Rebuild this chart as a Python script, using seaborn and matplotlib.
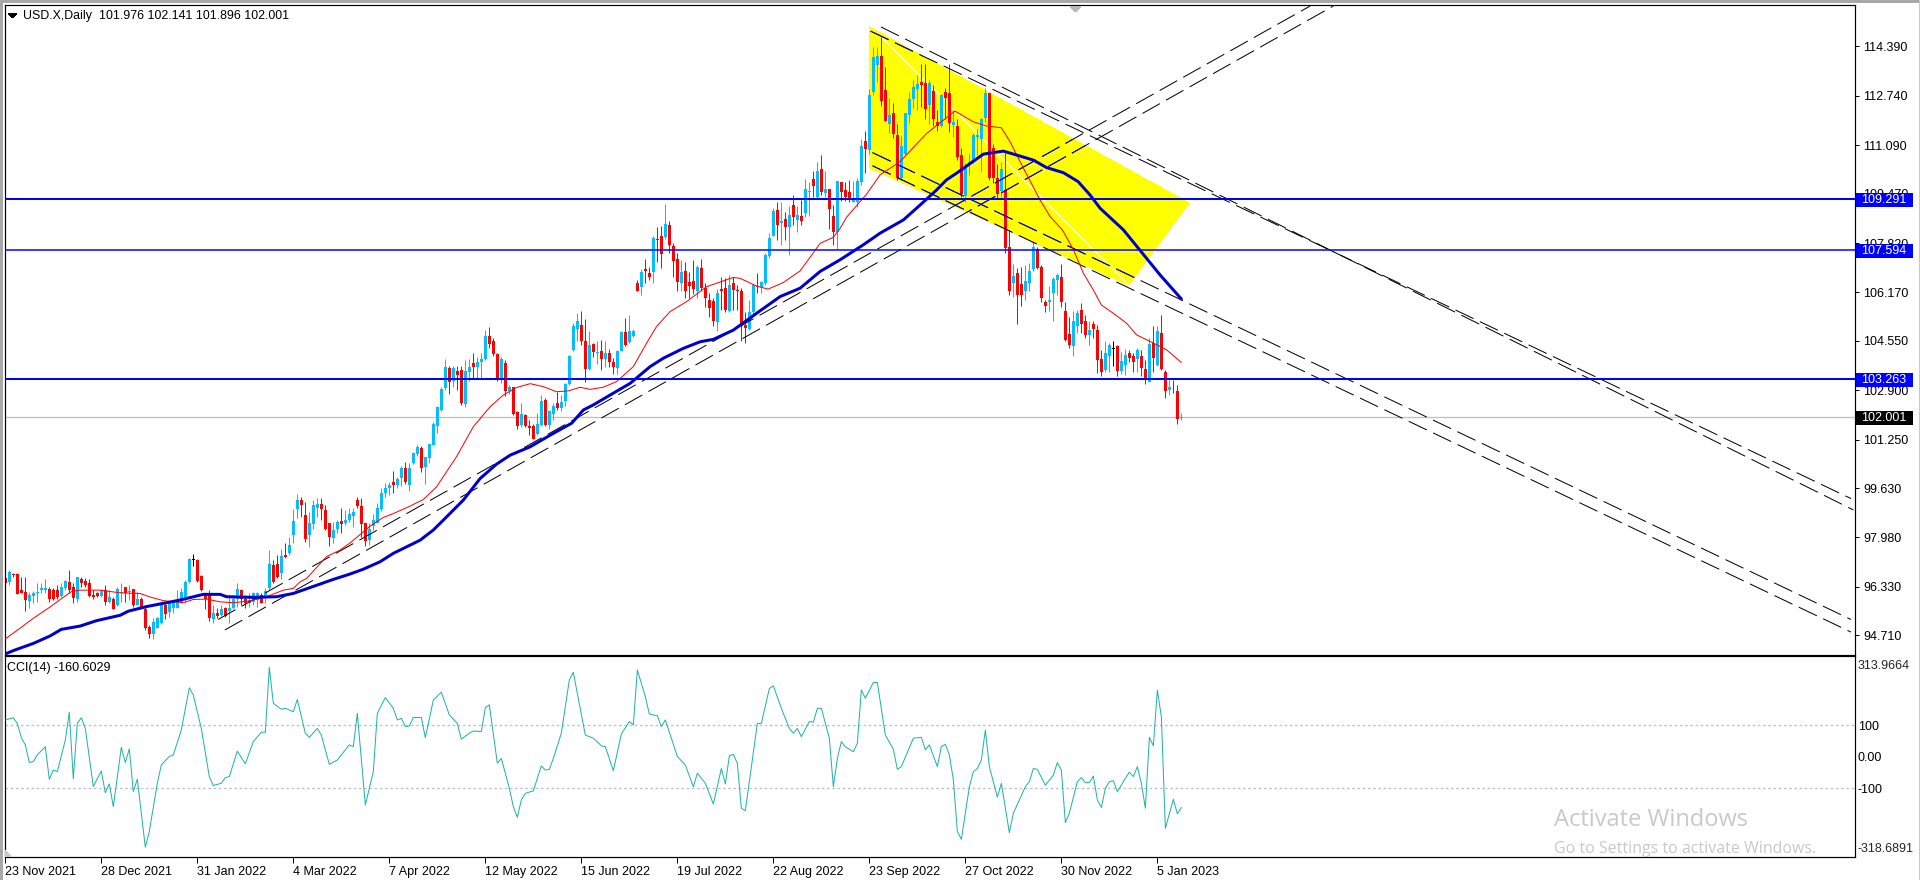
import matplotlib
matplotlib.use('Agg')
import matplotlib.pyplot as plt
from matplotlib.patches import Polygon, Rectangle
from matplotlib.transforms import blended_transform_factory
import numpy as np
import pandas as pd
import seaborn as sns

opens = [96.61,96.48,96.76,96.76,96.22,96.16,95.87,96.03,96.12,96.22,
 96.22,96.25,96.22,96.22,96.03,96.28,96.48,96.31,95.91,96.59,
 96.52,96.45,96.06,96.11,96.02,96.22,95.83,95.94,95.72,96.14,
 96.31,96.16,96.25,95.72,95.92,95.59,95.00,94.77,94.97,95.11,
 95.72,95.48,95.61,95.64,95.83,95.89,96.48,97.22,97.23,96.69,
 96.05,96.05,95.25,95.44,95.39,95.61,95.52,95.61,95.94,96.22,
 95.94,95.80,95.83,95.89,96.06,96.02,96.28,97.06,97.11,96.78,
 97.39,97.45,98.05,98.92,99.23,98.73,98.06,98.43,98.95,99.10,
 98.90,98.45,97.97,98.26,98.53,98.48,98.58,98.71,99.23,99.03,
 98.45,97.89,98.37,98.48,98.93,99.45,99.64,99.82,99.73,99.98,
 100.29,99.73,100.46,100.77,100.98,100.34,100.64,101.07,101.71,102.24,
 102.98,103.64,103.20,103.55,103.58,102.44,103.50,103.80,103.68,103.85,
 103.95,104.70,104.55,104.10,103.24,103.80,102.89,103.00,102.16,101.74,
 102.07,101.71,101.71,101.43,101.74,102.58,101.74,102.11,102.46,102.31,
 102.55,103.11,104.25,104.94,105.08,104.55,103.61,104.45,104.15,104.21,
 103.93,104.13,103.83,103.63,104.21,104.84,104.52,104.72,106.47,106.36,
 106.95,106.81,106.86,107.95,108.07,108.03,108.42,107.72,107.28,106.50,
 106.89,106.52,106.55,106.20,106.98,106.31,105.90,105.88,105.19,106.29,
 106.33,105.56,106.50,106.25,106.22,105.08,104.95,105.53,106.39,106.36,
 106.48,107.37,108.07,108.93,108.50,108.61,108.37,109.09,108.59,108.73,
 108.81,109.51,109.96,109.37,110.30,109.48,109.63,108.73,108.20,109.85,
 109.60,109.54,109.20,109.20,109.85,111.23,110.93,112.87,113.77,114.07,
 112.93,111.79,112.18,111.43,109.99,110.81,112.09,112.62,112.96,113.21,
 113.15,112.43,112.91,111.87,111.74,112.87,112.82,111.75,111.73,110.76,
 109.40,110.43,110.54,111.37,111.29,112.00,112.84,110.98,110.00,109.56,
 109.59,107.70,106.50,106.81,106.45,106.20,106.48,106.94,107.62,107.03,
 105.86,105.85,106.14,106.57,106.67,105.55,104.78,104.39,105.06,105.59,
 105.22,104.73,105.12,104.92,103.95,103.56,104.03,104.27,104.39,103.55,
 103.75,104.16,104.03,103.95,104.05,103.61,103.19,104.47,103.75,104.80,
 103.52,102.91,102.98,102.89,101.976]

closes = [96.45,96.81,96.74,96.09,96.11,95.89,96.06,96.13,96.14,96.28,
 96.30,95.93,95.94,95.98,96.33,96.53,96.22,95.97,96.65,96.45,
 96.39,96.02,95.98,96.02,96.20,95.83,96.00,95.59,96.26,96.17,
 96.14,96.18,95.72,95.91,95.64,94.96,94.77,95.15,95.28,95.72,
 95.42,95.78,95.83,95.89,96.17,96.50,97.25,97.22,96.53,96.22,
 95.92,95.28,95.44,95.35,95.58,95.37,95.64,95.94,96.25,95.94,
 95.78,95.89,96.11,96.11,95.80,96.20,97.09,96.50,96.65,97.36,
 97.34,97.73,98.53,99.23,99.06,97.92,98.48,99.06,99.10,98.93,
 98.28,97.98,98.23,98.50,98.43,98.58,98.76,98.84,99.03,98.43,
 97.87,98.28,98.56,98.95,99.47,99.65,99.73,99.75,99.93,100.31,
 99.83,100.31,100.79,101.01,100.31,100.66,101.10,101.77,102.33,102.94,
 103.68,103.18,103.65,103.40,102.46,103.55,103.68,103.68,103.85,103.95,
 104.70,104.45,104.10,103.25,103.93,102.89,103.02,102.11,101.71,102.11,
 101.72,101.65,101.27,101.77,102.54,101.74,102.19,102.39,102.31,102.52,
 103.10,104.05,105.05,105.22,104.56,103.61,104.41,104.17,104.19,103.93,
 104.13,103.83,103.66,104.21,104.83,104.41,104.88,104.89,106.23,106.86,
 106.90,106.67,107.98,107.93,107.45,108.46,107.75,107.23,106.51,106.86,
 106.20,106.38,106.27,107.03,106.31,105.97,105.66,105.23,106.16,106.20,
 105.58,106.42,106.25,106.20,105.06,104.97,105.53,106.40,106.34,106.52,
 107.42,108.00,108.89,108.43,108.56,108.34,108.76,108.68,108.76,108.56,
 109.63,109.57,109.71,110.21,109.51,109.63,108.95,108.20,109.90,109.54,
 109.35,109.34,109.32,109.90,111.06,110.95,112.76,114.04,114.07,112.57,
 111.91,112.09,111.46,109.98,111.06,112.17,112.63,113.04,113.13,113.10,
 112.29,113.15,111.96,111.74,112.76,112.65,111.82,111.87,110.70,109.45,
 110.39,110.51,111.43,111.43,111.98,112.84,109.98,110.00,109.45,110.29,
 107.64,106.23,106.72,106.09,106.09,106.55,106.87,107.67,106.98,105.99,
 105.70,105.92,106.62,106.76,105.86,104.58,104.42,105.22,105.47,105.12,
 104.75,104.92,104.95,103.91,103.50,104.14,104.42,104.27,103.55,103.88,
 104.08,103.97,103.85,104.25,103.65,103.30,104.45,103.97,104.88,103.60,
 102.89,103.01,102.96,101.95,102.001]

highs = [96.65,96.91,96.80,96.78,96.65,96.65,96.17,96.18,96.45,96.45,
 96.58,96.33,96.28,96.39,96.45,96.56,96.89,96.45,96.67,96.65,
 96.64,96.58,96.22,96.17,96.25,96.39,96.22,96.00,96.33,96.45,
 96.31,96.39,96.27,96.17,96.00,95.72,95.05,95.28,95.33,95.78,
 95.78,95.83,95.89,96.22,96.28,96.56,97.28,97.43,97.25,96.72,
 96.12,96.22,95.72,95.61,95.72,95.67,96.06,96.06,96.45,96.25,
 96.06,96.11,96.17,96.17,96.11,96.28,97.56,97.23,97.39,97.60,
 97.80,98.00,98.92,99.43,99.32,99.17,98.84,99.23,99.31,99.29,
 99.06,98.45,98.50,98.56,98.95,98.90,98.95,98.95,99.34,99.29,
 98.45,98.45,98.75,99.12,99.62,99.79,99.84,100.20,100.01,100.37,
 100.51,100.46,100.85,101.07,101.05,100.68,101.12,101.83,102.37,103.00,
 103.94,103.70,103.70,103.70,103.70,103.90,103.95,104.15,104.00,104.15,
 104.90,105.00,104.65,104.15,104.00,103.90,103.08,103.02,102.19,102.49,
 102.11,101.90,101.77,102.13,102.74,102.63,102.24,102.46,102.85,102.74,
 103.15,104.08,105.16,105.47,105.55,105.27,104.89,104.49,104.56,104.58,
 104.56,104.28,103.97,104.25,104.88,105.30,105.42,104.94,106.58,106.95,
 107.30,107.03,108.05,108.37,108.39,109.12,108.56,107.81,107.48,107.25,
 107.20,106.86,107.25,107.09,107.28,106.47,106.16,105.97,106.27,106.70,
 106.64,106.75,106.70,106.42,106.31,105.53,105.90,106.48,106.81,106.56,
 107.48,108.15,108.98,109.20,109.20,108.87,109.04,109.43,109.04,109.26,
 109.96,109.87,110.24,110.54,110.76,110.24,109.63,109.09,109.90,109.87,
 109.87,109.93,109.90,109.98,111.30,111.56,112.95,114.38,114.38,114.71,
 113.69,112.65,112.51,111.79,111.39,112.17,112.87,113.26,113.43,113.79,
 113.79,113.26,113.10,112.26,112.80,112.99,113.79,112.26,111.98,110.98,
 110.48,110.81,111.48,111.62,112.00,112.99,112.84,111.13,110.46,110.54,
 110.84,108.26,107.12,106.98,107.01,107.09,107.15,107.87,107.67,107.09,
 105.92,106.37,106.70,106.83,107.12,105.86,105.36,105.56,105.59,105.83,
 105.42,105.20,105.23,105.08,104.25,104.55,104.47,104.55,104.42,104.19,
 104.28,104.23,104.16,104.30,104.25,103.91,104.64,105.03,105.06,105.42,
 103.58,103.25,103.25,103.08,102.141]

lows = [96.30,96.39,96.65,96.09,96.11,95.52,95.61,95.78,95.81,96.11,
 96.13,95.83,95.89,95.94,96.00,96.22,96.11,95.80,95.83,96.31,
 96.31,96.00,95.92,95.98,95.98,95.74,95.80,95.59,95.69,95.83,
 95.83,95.89,95.67,95.72,95.64,94.89,94.63,94.60,94.94,95.09,
 95.24,95.33,95.44,95.61,95.80,95.83,96.46,97.03,96.49,96.20,
 95.60,95.20,95.13,95.30,95.37,95.33,95.11,95.60,95.67,95.72,
 95.64,95.67,95.72,95.67,95.78,95.78,96.22,96.45,96.61,96.58,
 97.28,97.39,97.78,98.62,98.67,97.84,97.67,98.28,98.67,98.58,
 98.23,97.70,97.81,98.12,98.12,98.39,98.50,98.34,98.98,98.00,
 97.70,97.73,98.23,98.45,98.87,99.32,99.40,99.45,99.62,99.70,
 99.76,99.54,100.43,100.70,100.18,99.76,100.46,101.07,101.48,102.20,
 102.90,102.77,103.00,102.90,102.40,102.35,103.20,103.30,103.30,103.30,
 103.90,104.30,104.05,103.20,103.15,102.70,102.78,102.07,101.60,101.68,
 101.68,101.41,101.27,101.41,101.72,101.71,101.60,101.90,102.24,102.19,
 102.37,103.08,104.21,104.56,104.41,103.19,103.58,104.02,103.78,103.58,
 103.69,103.66,103.44,103.44,104.21,104.38,104.47,104.69,106.20,106.08,
 106.50,106.58,106.50,107.20,107.00,107.94,107.50,106.70,106.22,106.20,
 105.97,105.97,106.10,105.97,106.20,105.67,105.36,105.05,104.88,105.58,
 105.53,105.53,105.58,105.58,104.53,104.49,104.91,105.38,106.14,106.14,
 106.42,107.31,108.04,107.92,107.76,107.92,107.42,108.43,108.20,108.43,
 108.70,108.73,109.37,109.32,109.43,109.37,108.28,107.76,107.61,109.23,
 109.23,109.20,109.20,109.02,109.76,110.17,110.79,112.76,113.21,112.40,
 111.91,111.48,111.32,109.92,109.92,110.76,111.82,112.32,112.26,112.37,
 111.96,111.79,111.73,111.57,111.70,111.96,111.54,111.37,110.59,109.37,
 109.20,110.09,110.48,110.76,110.20,111.87,109.92,109.83,109.31,109.37,
 107.50,106.09,106.03,105.12,105.70,105.92,106.20,106.90,106.94,105.86,
 105.53,105.56,105.23,106.09,105.67,104.55,104.30,104.03,104.80,104.80,
 104.64,104.42,104.64,103.49,103.36,103.52,103.52,103.71,103.36,103.45,
 103.41,103.86,103.52,103.50,103.36,103.11,103.17,103.52,103.72,103.58,
 102.65,102.74,102.80,101.78,101.896]

# moving averages read at the bends of each line
ma_fast_bars = [0,4,7,11,14.5,16.5,18.7,23.7,28.7,33.7,36,39.5,42,44.5,47,50.3,53.7,57,61,65.3,69.5,72,73.7,75.3,80.3,83.7,86.2,91.2,94.5,97,101.2,104.5,107.8,112.8,117,121.2,124.5,127.8,131.2,134.5,137.8,140.8,143.7,146.2,149.5,152.8,157,160.3,162.8,166.2,170.3,175.3,182,183.7,187.8,190.7,194.5,198.7,201.6,203.7,207,208.7,210.3,215.3,218.7,223.7,230.3,237.4,242,245.3,249,251.2,253.7,258.7,261.2,264.3,267,269.5,272,274,277,280.3,282.8,286.2,290.3,294]
ma_fast = [94.59,94.98,95.28,95.64,95.98,96.17,96.22,96.22,96.13,96.11,96.0,95.87,95.83,95.8,95.91,95.92,95.83,95.8,95.86,96.0,96.22,96.28,96.5,96.61,97.34,97.56,97.8,98.36,98.65,98.78,99.03,99.25,99.67,100.68,101.68,102.35,102.74,102.99,103.12,103.02,102.85,102.88,103.0,102.93,103.0,103.19,103.69,104.47,105.03,105.53,105.86,106.36,106.67,106.64,106.38,106.28,106.5,106.89,107.42,107.81,108.01,108.31,108.68,109.45,110.1,110.54,111.48,112.23,111.87,111.73,111.67,111.2,110.53,109.25,108.7,108.25,107.6,106.81,106.25,105.75,105.47,105.14,104.75,104.53,104.25,103.83]

ma_slow_bars = [0,2.4,7,11.2,14,18.7,22.8,28.7,30.8,35.3,39.5,43.7,49.5,53.7,55.3,62,67.8,72,82,86.2,89.5,93.7,97,103.7,107,109.5,114.5,118.7,122.8,126.2,131.2,137,141.6,144.5,147,151.2,156.2,161.2,164.5,169.5,173.7,177,182,187.8,193.7,198.7,203.7,208.7,214.5,218.7,224.5,228.7,232.8,235.3,238,244.5,249.5,252.8,257,260.3,264.5,268.2,271.2,273.7,277,279.5,283.7,288.7,294]
ma_slow = [94.09,94.22,94.44,94.69,94.91,95.02,95.2,95.38,95.52,95.67,95.78,95.89,96.08,96.08,96.0,95.98,96.0,96.11,96.58,96.76,96.92,97.17,97.45,97.89,98.23,98.56,99.23,99.95,100.43,100.73,101.01,101.46,101.8,102.24,102.41,102.74,103.13,103.69,103.97,104.3,104.52,104.6,104.91,105.47,106.03,106.31,106.87,107.26,107.76,108.15,108.59,109.09,109.59,109.93,110.17,110.79,110.89,110.76,110.59,110.34,110.17,109.87,109.42,108.98,108.57,108.26,107.57,106.75,105.95]

cci_bars = [0,2,3,4,5,6,7,8,10,11,12,13,15,16,17,18,19,20,22,24,25,26,27,29,30,31,32,33,35,36,38,39,41,42,44,46,47,49,51,52,54,55,56,58,60,62,64,65,66,67,69,70,72,73,75,76,78,79,81,83,86,87,88,90,92,93,95,97,98,99,100,101,102,104,105,107,109,111,113,114,116,117,119,120,121,123,124,126,127,128,129,130,132,134,135,136,137,139,141,142,145,147,149,150,152,154,156,157,158,160,161,163,164,165,168,170,172,173,175,177,179,180,181,182,183,184,185,188,189,191,192,194,196,197,198,199,201,202,203,204,206,207,208,209,210,212,213,214,215,217,218,220,222,223,224,227,229,230,231,233,234,235,236,237,238,239,240,241,242,243,244,245,246,248,249,251,252,255,256,257,258,260,262,263,264,265,266,268,269,270,271,272,273,274,275,276,277,278,280,281,282,283,284,285,286,287,288,289,290,292,293,294]
cci_vals = [117,124,106,61,38,-18,-15,6,32,-71,-42,-47,53,141,-70,106,124,90,-94,-45,-114,-86,-158,30,-18,25,-110,-71,-287,-237,-84,-26,1,6,85,219,196,90,-63,-91,-84,-66,-63,18,-22,48,78,78,284,170,151,154,143,182,75,62,90,69,-24,-10,38,32,138,-153,-47,138,188,154,117,122,96,98,125,125,61,180,205,133,106,56,75,82,80,156,165,-20,-5,-100,-158,-192,-137,-116,-108,-29,-42,-40,-5,75,244,268,69,59,35,32,-44,72,112,101,276,191,136,130,96,117,1,-26,-95,-52,-84,-150,-37,-86,3,8,-21,-163,-171,106,106,217,225,154,90,75,90,64,112,110,154,154,59,-95,-5,48,32,16,43,212,186,236,236,69,24,-40,-31,59,62,22,38,-31,32,40,6,-73,-237,-262,-179,-95,-47,-37,-10,85,-31,-128,-84,-241,-179,-95,-79,-37,-40,-90,-58,-18,-42,-209,-179,-79,-66,-82,-82,-61,-137,-161,-100,-79,-76,-111,-68,-49,-63,-31,-84,-163,62,35,212,127,-227,-135,-181,-160.6]

date_ticks = ['23 Nov 2021','28 Dec 2021','31 Jan 2022','4 Mar 2022','7 Apr 2022','12 May 2022','15 Jun 2022','19 Jul 2022','22 Aug 2022','23 Sep 2022','27 Oct 2022','30 Nov 2022','5 Jan 2023']
price_ticks = [114.390,112.740,111.090,109.470,107.820,106.170,104.550,102.900,101.250,99.630,97.980,96.330,94.710]
levels = [109.291,107.594,103.263]
level_widths = [2,1.5,2]
last_close = 102.001

# drawn objects: (start bar, start price, end bar, end price)
trendlines = [(53.2,95.24,326.2,115.74),(54.9,94.89,332,115.74),
              (218.9,115.04,462,98.9),(216.3,114.9,461.4,99.28),
              (216.8,110.84,461.4,95.24),(216.8,110.4,461.4,94.82)]
channel_bars = [216,295.9,280.8,216]
channel_prices = [115.04,109.16,106.42,110.34]
median_bars = [219,280.8]
median_prices = [114.7,106.42]

W, H = 1920, 880
UP, DOWN = '#00bfff', '#ff0000'
PX = 0.72  # one screen pixel in points

sns.set_theme(style='white')
plt.rcParams['font.family'] = ['Liberation Sans', 'DejaVu Sans']
plt.rcParams['font.size'] = 9
plt.rcParams['patch.antialiased'] = False

def axes_at(x0, y0, x1, y1):
    return fig.add_axes([x0/W, 1-y1/H, (x1-x0)/W, (y1-y0)/H])

fig = plt.figure(figsize=(W/100, H/100), dpi=100, facecolor='white')
ax = axes_at(5, 5.5, 1855, 654.5)
ax2 = axes_at(5, 656, 1855, 857.3)

df = pd.DataFrame({'o': opens, 'h': highs, 'l': lows, 'c': closes})
df['bar'] = np.arange(len(df))
df['color'] = np.where(df.c > df.o, UP, DOWN)
df.loc[df.c == df.o, 'color'] = 'black'

# channel and the lines over it
channel = Polygon(list(zip(channel_bars, channel_prices)), closed=True, color='#ffff00', lw=0, zorder=1)
ax.add_patch(channel)
ax.plot(median_bars, median_prices, color='white', lw=PX, zorder=1.5)

ax.vlines(df.bar, df.l, df.h, colors=df.color, lw=PX, zorder=2)
ax.bar(df.bar, (df.c-df.o).abs().clip(lower=0.03), bottom=df[['o', 'c']].min(axis=1),
       width=0.75, color=df.color, lw=0, zorder=2.2)

for x0, y0, x1, y1 in trendlines:
    ax.plot([x0, x1], [y0, y1], color='black', lw=PX, dashes=(20, 7), zorder=3)
    inside, = ax.plot([x0, x1], [y0, y1], color='#0000ff', lw=PX, dashes=(20, 7), zorder=3.1)
    inside.set_clip_path(channel)

sns.lineplot(x=ma_fast_bars, y=ma_fast, ax=ax, color='#ff0000', linewidth=PX, estimator=None, sort=False, zorder=4)
sns.lineplot(x=ma_slow_bars, y=ma_slow, ax=ax, color='#0000cd', linewidth=3*PX, estimator=None, sort=False, zorder=4.2)

ax.axhline(last_close, color='#c0c0c0', lw=1.3*PX, zorder=1.2)
for level, width in zip(levels, level_widths):
    ax.axhline(level, color='#0000ff', lw=width*PX, zorder=5)

ax.set_xlim(-0.075, 462.4)
ax.set_ylim(94.07, 115.756)
ax.set_xticks([])
ax.yaxis.tick_right()
ax.set_yticks(price_ticks)
ax.set_yticklabels([f'{p:.3f}' for p in price_ticks])
ax.tick_params(axis='y', length=3, width=PX, pad=3, color='black', labelcolor='black', labelsize=9, right=True)

# price boxes on the scale
trans = blended_transform_factory(ax.transAxes, ax.transData)
box_w = 57/1850
box_h = 14/29.93
for price, bg in [(l, '#0000ff') for l in levels] + [(last_close, '#000000')]:
    ax.add_patch(Rectangle((1.0003, price-box_h/2-1/29.93), box_w, box_h, transform=trans,
                           facecolor=bg, lw=0, clip_on=False, zorder=10))
    ax.text(1+6.5/1850, price-1/29.93, f'{price:.3f}', transform=trans, color='white',
            va='center', ha='left', fontsize=9, zorder=11)

sns.lineplot(x=cci_bars, y=cci_vals, ax=ax2, color='#20b2aa', linewidth=PX, estimator=None, sort=False, zorder=3)
for level in (100, -100):
    ax2.axhline(level, color='#c0c0c0', lw=1.3*PX, ls=(0, (2, 2)), zorder=1)
ax2.set_xlim(-0.075, 462.4)
ax2.set_ylim(-319, 320)
ax2.yaxis.tick_right()
ax2.set_yticks([100, 0, -100])
ax2.set_yticklabels(['100', '0.00', '-100'])
ax2.set_xticks(np.arange(len(date_ticks))*24)
ax2.set_xticklabels(date_ticks, ha='left')
ax2.tick_params(axis='y', length=0, pad=2, labelsize=9, labelcolor='black')
ax2.tick_params(axis='x', length=4, width=PX, pad=2, labelsize=9, labelcolor='black', bottom=True, color='black')
ax2.text(1+3/1850, 0.952, '313.9664', transform=ax2.transAxes, va='center', ha='left', fontsize=9)
ax2.text(1+3/1850, 0.041, '-318.6891', transform=ax2.transAxes, va='center', ha='left', fontsize=9)

for a in (ax, ax2):
    a.grid(False)
    a.set_xlabel('')
    a.set_ylabel('')
    a.set_facecolor('white')
    for s in a.spines.values():
        s.set_visible(True)
        s.set_color('black')
        s.set_linewidth(1.2*PX)
        s.set_antialiased(True)

# panel captions and small chart markers
fig.text(23/W, 1-15.5/H, 'USD.X,Daily  101.976 102.141 101.896 102.001', fontsize=8.9, color='black', va='center')
fig.text(7/W, 1-668/H, 'CCI(14) -160.6029', fontsize=9, color='black', va='center')
fig.add_artist(Polygon([[8/W, 1-13/H], [17/W, 1-13/H], [12.5/W, 1-18/H]], transform=fig.transFigure, color='black', lw=0))
fig.add_artist(Polygon([[1070/W, 1-6/H], [1081/W, 1-6/H], [1075.5/W, 1-12/H]], transform=fig.transFigure, color='#b8b8b8', lw=0))
fig.add_artist(Polygon([[5/W, 1-857/H], [11/W, 1-857/H], [5/W, 1-850/H]], transform=fig.transFigure, color='#c8c8c8', lw=0))

# window frame
fig.add_artist(Rectangle((0, 1-3/H), 1, 3/H, transform=fig.transFigure, color='#a8a8a8', lw=0))
fig.add_artist(Rectangle((0, 0), 2.5/W, 1, transform=fig.transFigure, color='#a8a8a8', lw=0))
fig.add_artist(Rectangle((1-1.5/W, 0), 1.5/W, 1, transform=fig.transFigure, color='#c8c8c8', lw=0))

# OS watermark
fig.text(1554/W, 1-820/H, 'Activate Windows', fontsize=17, color='#c9c9c9', family='Open Sans', va='center')
fig.text(1554/W, 1-849/H, 'Go to Settings to activate Windows.', fontsize=11.5, color='#c9c9c9', family='Open Sans', va='center')

fig.savefig('out.png', dpi=100)
